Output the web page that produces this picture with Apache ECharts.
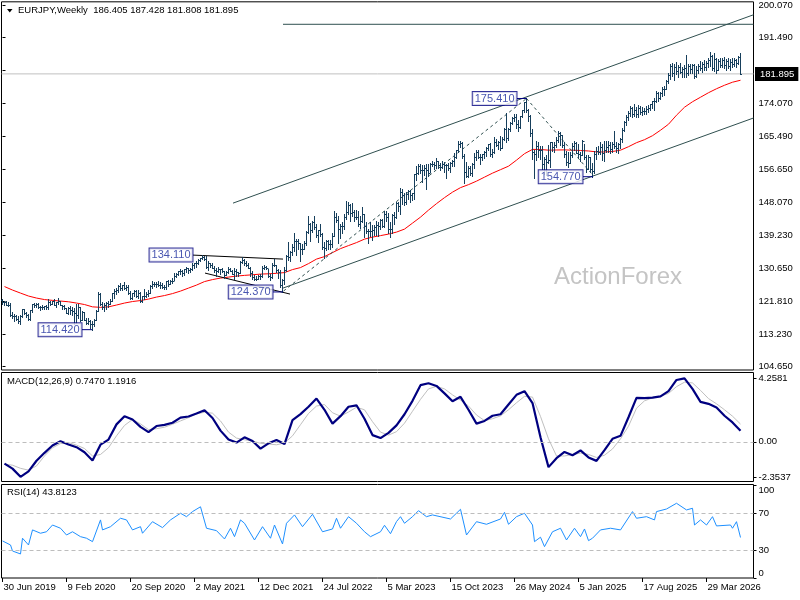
<!DOCTYPE html>
<html>
<head>
<meta charset="utf-8">
<script src="https://cdn.jsdelivr.net/npm/echarts@6/dist/echarts.min.js"></script>
<style>html,body{margin:0;padding:0;background:#fff}#c{width:800px;height:600px}</style>
</head>
<body>
<div id="c"></div>
<script>
// ---------------- data (weekly bars) ----------------
const xTickLabels = ['30 Jun 2019','9 Feb 2020','20 Sep 2020','2 May 2021','12 Dec 2021','24 Jul 2022','5 Mar 2023','15 Oct 2023','26 May 2024','5 Jan 2025','17 Aug 2025','29 Mar 2026'];
const firstOpen = 122.3;
const highs = [
122.6,122.0,121.9,121.6,121.4,119.1,118.6,118.3,118.0,118.2,
119.9,120.0,119.2,118.6,119.6,121.3,121.5,121.5,121.5,120.7,
120.9,120.7,121.0,122.4,122.0,122.1,122.6,121.7,122.9,122.1,
121.0,121.0,120.2,120.3,120.7,120.5,120.2,121.1,121.2,120.3,
119.3,119.1,117.5,117.5,116.9,116.6,117.3,119.6,124.4,124.0,
121.8,121.5,121.8,121.9,122.5,124.2,125.1,125.4,126.2,126.7,
126.3,127.1,126.1,126.3,124.6,124.2,124.8,124.9,124.9,124.3,
123.3,125.1,124.4,124.8,126.3,127.3,127.1,127.0,127.2,127.0,
126.6,126.3,127.3,127.6,127.6,128.0,129.5,129.3,130.0,130.4,
130.1,130.3,131.0,130.7,130.7,132.0,132.1,132.5,133.0,133.4,
134.11,133.9,133.8,132.5,132.1,132.0,131.2,130.6,130.9,130.4,
130.8,129.8,129.8,130.9,130.7,130.2,130.6,130.5,129.7,132.5,
133.5,133.0,132.5,132.0,131.0,129.8,128.8,128.5,128.9,129.2,
131.1,131.6,131.3,130.3,129.2,131.9,133.1,131.5,130.5,130.1,
127.7,131.0,134.0,137.5,135.3,137.1,140.0,138.3,138.3,137.4,
137.0,137.8,140.4,144.3,142.6,143.1,144.3,142.2,140.8,142.3,
140.0,137.5,138.2,138.0,138.0,140.0,145.6,145.1,144.4,142.4,
142.7,145.0,148.4,148.0,147.7,147.8,146.1,146.0,145.6,144.5,
146.7,145.0,142.9,141.0,142.9,142.0,142.1,143.0,142.7,143.6,
143.6,145.6,145.6,145.1,142.9,145.0,145.5,148.0,148.0,151.7,
151.6,150.6,150.7,151.2,151.2,150.6,155.4,157.6,158.0,158.0,
157.8,157.9,158.1,158.0,158.4,159.0,158.6,159.8,159.0,158.5,
159.0,158.7,158.0,158.5,158.7,159.2,161.0,161.8,164.3,164.1,
163.8,160.8,158.7,157.6,157.5,158.5,160.9,161.8,161.9,160.8,
160.8,161.6,162.6,163.4,163.7,162.0,165.2,164.7,164.1,165.4,
165.3,167.7,171.6,167.6,169.3,170.6,171.4,171.2,169.7,170.9,
172.4,174.5,175.41,172.6,171.0,167.3,161.7,164.3,163.9,163.0,
162.8,160.0,160.5,163.2,164.0,164.0,163.9,165.3,166.7,166.5,
165.9,163.9,161.6,161.4,161.4,163.6,164.2,164.0,163.4,161.4,
164.5,163.5,160.5,160.5,160.0,158.4,161.6,162.5,162.9,163.9,
163.3,164.2,164.1,164.1,163.8,163.9,166.7,163.9,163.7,165.0,
167.5,169.5,171.0,172.2,173.5,173.2,173.9,173.2,173.6,173.4,
173.1,172.9,173.5,173.8,174.0,174.7,175.5,177.5,177.2,177.0,
178.5,178.6,180.2,182.2,184.6,184.9,184.5,185.0,184.2,184.8,
183.7,184.2,186.8,184.6,184.4,184.6,184.4,183.9,184.5,185.3,
185.0,185.5,185.2,186.0,187.6,187.0,187.4,186.2,185.8,186.1,
186.0,186.3,185.9,186.2,185.8,186.0,186.2,185.9,186.7,187.428];
const lows = [
121.2,121.0,120.8,120.6,118.1,117.6,116.8,116.9,116.2,116.0,
117.7,118.5,117.8,116.9,117.1,119.2,120.3,120.3,120.2,119.6,
119.9,119.9,119.8,119.9,121.0,121.1,120.9,120.3,121.3,120.8,
119.8,119.9,118.9,118.6,118.6,118.2,115.9,116.1,117.5,116.8,
117.0,116.9,115.9,115.8,114.9,114.42,115.5,116.9,119.3,121.0,
119.8,119.4,119.9,120.3,121.1,122.0,122.9,123.8,124.3,125.0,
124.9,125.1,124.8,123.9,122.4,122.5,123.4,123.0,122.8,121.6,
121.8,122.6,123.1,123.3,124.0,125.5,125.9,125.7,125.9,125.3,
125.3,125.2,125.2,125.9,126.4,126.8,127.4,128.2,128.8,129.2,
128.5,128.8,129.6,129.3,129.7,130.1,130.8,131.0,131.8,132.5,
133.0,132.7,130.8,130.1,131.0,130.6,129.7,128.6,129.7,129.0,
129.7,128.0,128.8,129.4,129.8,129.0,127.9,128.7,128.5,129.3,
132.0,131.5,131.1,130.6,128.6,127.9,127.6,127.6,127.8,127.7,
128.2,130.5,130.3,128.2,127.4,128.0,131.1,129.6,128.0,125.6,
124.37,126.5,130.0,132.8,132.5,134.1,135.2,134.0,135.8,132.6,
134.3,135.6,136.8,140.0,137.9,140.1,141.1,138.8,137.5,139.0,
135.8,133.4,135.5,135.6,135.7,136.3,139.0,142.7,137.4,138.6,
140.0,140.9,143.6,144.9,143.1,144.5,143.2,143.5,141.8,141.2,
142.9,138.8,139.8,137.4,139.0,138.0,139.5,139.5,139.0,141.0,
141.6,141.5,143.0,139.8,138.8,139.9,142.4,143.9,145.8,145.0,
147.6,147.4,147.7,148.9,148.1,148.6,149.0,154.0,155.6,155.7,
153.5,155.2,151.4,155.0,155.9,157.5,156.7,157.2,157.0,156.6,
157.2,155.9,154.5,156.6,156.0,157.5,157.7,159.8,161.3,162.7,
159.8,153.2,154.8,154.6,155.1,155.0,157.2,159.2,159.8,158.2,
159.3,159.6,160.2,161.8,160.2,160.0,161.0,162.8,162.2,161.9,
162.3,164.4,164.0,164.5,166.9,168.7,169.4,167.7,166.8,167.6,
170.4,171.8,171.9,169.5,165.5,159.5,154.4,159.2,160.1,159.5,
156.7,155.6,155.2,158.5,157.4,161.5,161.2,162.5,163.8,163.2,
162.5,160.0,157.8,157.4,158.4,160.1,161.9,160.9,160.1,158.8,
160.4,159.4,156.0,156.9,155.9,154.77,155.8,159.4,160.8,160.8,
159.1,158.9,161.3,161.2,160.9,161.2,162.3,161.2,161.0,162.3,
164.0,166.8,168.5,169.8,170.8,170.4,170.8,170.5,170.6,171.2,
171.0,171.2,171.3,171.9,172.5,172.8,172.5,174.5,174.8,175.2,
176.0,176.2,177.8,179.5,180.6,181.4,180.4,181.9,181.0,182.0,
181.2,181.0,181.1,181.5,182.0,182.0,180.7,181.0,182.2,182.8,
182.4,183.0,182.8,183.6,184.0,182.9,182.6,182.1,182.8,183.6,
183.8,183.4,183.0,183.5,182.8,183.6,184.0,183.8,184.5,181.808];
const closes = [
121.7,121.6,121.0,120.8,118.4,118.1,117.9,117.3,116.6,117.9,
119.8,118.8,118.3,117.2,119.5,121.2,120.8,121.2,120.4,120.4,
120.3,120.6,120.3,121.8,121.3,121.9,120.9,121.6,122.0,120.9,
120.6,120.1,118.9,120.2,119.6,119.4,118.8,118.4,120.4,117.1,
119.2,117.0,116.3,116.6,115.8,115.9,117.1,119.4,123.9,121.3,
120.3,120.8,121.4,121.2,122.1,124.0,124.6,124.9,126.0,125.3,
126.1,125.5,125.6,124.0,122.8,124.0,124.6,123.4,124.0,122.0,
123.2,123.4,123.8,124.2,126.0,126.5,126.4,126.5,126.2,126.2,
125.8,125.8,127.2,126.5,127.2,127.3,128.6,129.0,130.0,130.0,
129.5,130.3,130.7,130.2,130.3,131.5,132.0,132.0,132.9,133.2,
133.7,133.0,131.0,132.0,131.4,130.6,130.1,130.0,130.3,130.4,
129.8,128.9,129.7,130.3,129.9,129.1,130.0,129.6,129.4,132.3,
132.8,131.9,131.5,130.7,129.4,128.3,127.7,127.8,128.7,128.7,
130.8,131.0,130.7,128.5,128.3,131.4,131.4,130.1,129.7,126.3,
127.6,130.2,133.9,133.6,134.9,136.3,137.8,137.9,137.4,135.7,
135.6,137.2,140.2,142.2,140.6,142.8,141.6,139.5,140.6,139.6,
136.2,135.9,137.9,137.0,136.9,139.1,144.2,143.4,140.9,141.8,
141.9,144.1,145.5,147.3,145.2,145.5,144.2,144.2,142.2,143.2,
145.0,141.7,140.5,140.5,140.5,140.6,141.6,142.1,141.7,143.4,
141.9,144.9,144.1,141.0,141.1,144.6,144.2,147.8,147.1,150.7,
149.9,148.2,150.3,150.9,149.9,150.5,155.4,155.8,157.5,156.6,
156.6,157.1,156.6,155.8,158.2,158.0,157.8,158.8,157.9,157.4,
158.2,157.9,157.9,157.2,158.3,158.8,160.0,161.7,163.5,163.6,
160.3,156.0,155.0,157.0,155.7,158.0,160.0,161.3,160.0,160.0,
160.8,161.3,162.3,163.4,160.8,161.4,163.8,163.2,164.0,162.4,
164.7,167.4,164.9,167.4,168.9,170.2,170.6,168.7,167.8,170.8,
172.4,174.4,172.4,170.9,166.2,161.3,160.7,163.0,161.8,161.7,
158.0,159.4,158.7,159.2,163.9,162.5,163.1,164.5,166.2,165.9,
163.2,160.8,158.7,158.5,160.6,163.0,163.7,161.1,160.7,160.6,
164.1,160.0,156.7,160.0,156.9,156.3,160.8,161.5,161.4,162.5,
161.0,161.8,162.6,163.1,162.0,163.5,163.0,162.3,163.4,164.6,
167.2,169.2,170.6,171.5,172.9,171.2,172.5,171.3,172.8,171.8,
172.1,172.0,172.6,172.9,173.9,174.7,174.8,176.8,175.6,176.8,
177.9,178.0,179.9,181.7,184.1,182.0,183.6,182.6,183.8,182.5,
183.2,183.5,182.0,184.0,183.3,184.2,181.4,182.9,184.1,183.4,
184.6,183.6,184.9,185.5,186.6,183.5,185.8,183.0,185.2,184.3,
185.6,184.2,185.4,184.1,185.1,184.5,185.6,184.9,186.405,181.895];

// moving average (red), MACD main / signal: one reading every 4 weeks, starting at week 1
const maValues = [125.79,124.87,124.07,123.29,122.76,122.36,122.15,121.97,121.78,121.44,
121.05,120.44,120.31,120.44,120.92,121.44,121.84,122.10,122.49,123.02,
123.42,123.94,124.60,125.39,126.18,127.11,127.63,128.03,128.29,128.56,
128.74,128.90,129.08,129.16,129.29,129.48,130.27,130.80,131.85,133.04,
133.70,134.75,135.80,136.60,137.39,138.31,138.84,139.23,139.63,140.16,
140.95,142.53,144.11,145.96,147.67,149.25,150.70,151.89,152.68,153.60,
154.66,155.71,156.63,157.55,159.14,160.85,161.98,161.95,161.77,161.82,
161.85,161.77,161.69,161.56,161.32,161.29,161.43,161.77,162.69,163.75,
164.54,165.59,167.04,168.62,171.00,173.10,174.55,175.74,176.93,177.98,
178.90,179.70,180.22];
const macdValues = [-1.46,-1.80,-2.35,-1.98,-1.27,-0.74,-0.25,0.04,-0.18,-0.36,
-0.70,-1.25,-0.19,0.15,1.17,1.72,1.50,1.00,0.65,1.06,
1.14,1.28,1.62,1.70,1.90,2.12,1.60,0.75,0.16,-0.05,
0.30,0.05,-0.46,-0.10,0.12,-0.15,1.45,1.86,2.35,2.90,
2.15,1.22,1.72,2.35,2.45,1.55,0.45,0.25,0.60,1.10,
1.85,2.75,3.80,3.93,3.75,3.25,2.72,3.02,2.15,1.22,
1.40,1.75,1.85,2.50,3.15,3.40,2.60,0.30,-1.70,-1.10,
-0.68,-0.90,-0.58,-1.05,-1.28,-0.56,0.20,0.40,1.65,2.95,
2.93,2.97,3.05,3.40,4.15,4.2581,3.55,2.68,2.55,2.30,
1.75,1.30,0.747];
const signalValues = [-1.50,-1.57,-1.78,-1.90,-1.62,-0.95,-0.40,-0.12,-0.06,-0.22,
-0.45,-0.95,-0.85,-0.40,0.40,1.10,1.50,1.20,0.82,0.88,
0.98,1.18,1.40,1.62,1.88,1.98,1.92,1.40,0.65,0.25,
0.14,0.05,-0.10,-0.15,-0.20,-0.08,0.40,1.15,1.90,2.40,
2.50,1.95,1.72,2.00,2.32,2.15,1.35,0.65,0.45,0.68,
1.25,2.05,2.85,3.55,3.72,3.55,3.15,2.80,2.40,1.80,
1.42,1.55,1.74,2.15,2.62,3.05,3.00,1.70,0.20,-0.95,
-0.95,-0.85,-0.76,-0.85,-1.05,-0.90,-0.48,0.20,1.05,2.25,
2.75,2.95,3.05,3.25,3.70,4.00,3.95,3.45,2.90,2.55,
2.15,1.72,1.1916];
// RSI(14) readings: week index and value
const rsiWeeks = [0,4,5,9,10,13,15,19,22,25,29,32,35,39,42,45,49,50,54,59,62,65,69,70,75,80,84,89,92,95,99,102,107,111,114,116,119,121,126,130,134,136,140,142,146,150,155,160,165,167,169,173,177,181,184,189,191,194,197,199,201,205,208,212,215,224,229,232,237,242,249,251,253,257,261,265,266,269,271,275,279,282,286,289,291,293,295,299,304,309,315,317,322,326,327,332,337,342,345,346,349,352,355,357,364,365,367,369];
const rsiValues = [40.1,35.7,29.2,26.0,43.0,35.7,52,48.4,50,57.3,53.8,46.5,50,44.7,43,39.3,62.8,52,55.5,64.6,62.8,52,55.5,48.4,60.9,54.5,62.8,70,66.3,71.8,77,53.8,51.2,42.2,53.8,44.7,62.8,59.2,41.1,55.5,43,57.3,36.8,59.2,68.2,55.5,68.9,50,53,64.6,53.8,66.3,59.2,50,44.7,50,57,47.9,61,66.3,59.2,66.3,72.8,66.3,68.2,63.8,74.3,46.5,60.9,58.1,63.8,71,58.1,66.3,70,57.3,39.3,44.1,33.9,50,53.8,41.1,53.8,44.7,53,40.4,43,52,53.8,52,71.8,64.6,66.3,62.8,71.8,74.6,80.8,73.6,75.4,57.3,62.8,57.3,66.3,56.3,57.3,53.8,60.9,43.8123];

const priceTicks = [104.65,113.23,121.81,130.65,139.23,148.07,156.65,165.49,174.07,182.91,191.49,200.07];
const macdTicks = [-2.3537, 0, 4.2581];
const lastPrice = 181.895;
const feLevel = 194.98;
// drawn objects, in (week index, price) units
const upperChannel = [[115.25,147.80],[375.5,197.49]];
const lowerChannel = [[140.25,125.39],[375.5,170.26]];
const triangleTop = [[95.25,134.09],[140.25,133.04]];
const triangleBottom = [[101.25,129.35],[143.75,123.81]];
const waveUp = [[140.5,124.6],[262,175.41]];
const waveDown = [[262,175.41],[295.5,155.0]];
const priceMarks = [[44.75,114.42],[100.25,134.11],[140.25,124.37],[262.25,175.41],[295.25,154.77]];

// ---------------- chart ----------------
const FONT = 'Liberation Sans';
const FS = 9.5;
const BAR = '#173F5C';
const SLOTS = 376;
const cats = Array.from({length: SLOTS}, (_, i) => String(i));
const bars = closes.map((c, i) => [i, i === 0 ? firstOpen : closes[i - 1], highs[i], lows[i], c]);
const every4 = arr => arr.map((v, k) => [1 + 4 * k, v]);
const rsiData = rsiWeeks.map((w, j) => [w, rsiValues[j]]);

function renderBar(params, api) {
  const i = api.value(0);
  const pO = api.coord([i, api.value(1)]);
  const pH = api.coord([i, api.value(2)]);
  const pL = api.coord([i, api.value(3)]);
  const pC = api.coord([i, api.value(4)]);
  const x = Math.floor(pH[0]) + 0.5;
  const yo = Math.round(pO[1]) + 0.5, yc = Math.round(pC[1]) + 0.5;
  const st = {stroke: BAR, lineWidth: 1};
  return {type: 'group', children: [
    {type: 'line', shape: {x1: x, y1: Math.round(pH[1]), x2: x, y2: Math.round(pL[1]) + 1}, style: st},
    {type: 'line', shape: {x1: x - 1.5, y1: yo, x2: x, y2: yo}, style: st},
    {type: 'line', shape: {x1: x, y1: yc, x2: x + 1.5, y2: yc}, style: st}
  ]};
}

function seg(pts, color, dashed, z) {
  return {type: 'line', xAxisIndex: 1, yAxisIndex: 0, data: pts, symbol: 'none', silent: true,
    lineStyle: {color: color, width: 1, type: dashed ? [3, 3] : 'solid'}, z: z || 4};
}

const gridCommon = {left: 1.5, width: 752, show: true, borderColor: '#000', borderWidth: 1, backgroundColor: '#fff'};
const labelStyle = {fontFamily: FONT, fontSize: FS, color: '#000'};
const hiddenCat = g => ({type: 'category', gridIndex: g, data: cats, boundaryGap: true, show: false});

const series = [
  // current price line with the axis box
  {type: 'line', xAxisIndex: 1, yAxisIndex: 0, data: [[-0.5, lastPrice], [375.5, lastPrice]], symbol: 'none', silent: true,
   lineStyle: {color: '#C0C0C0', width: 1}, z: 1,
   endLabel: {show: true, formatter: lastPrice.toFixed(3), backgroundColor: '#000', color: '#fff', fontFamily: FONT, fontSize: FS,
              padding: [2, 4, 2, 5], distance: 1.5}},
  // FE 78.6 level
  {type: 'line', xAxisIndex: 1, yAxisIndex: 0, symbol: 'none', silent: true, z: 4,
   lineStyle: {color: '#2F4F4F', width: 1},
   data: [[140.25, feLevel], {value: [375.5, feLevel], label: {show: true, formatter: 'FE 78.6', position: 'left', distance: 1,
          offset: [0, -6], color: '#2F4F4F', fontFamily: FONT, fontSize: FS}}]},
  seg(upperChannel, '#2F4F4F'),
  seg(lowerChannel, '#2F4F4F'),
  seg(triangleTop, '#000'),
  seg(triangleBottom, '#000'),
  seg(waveUp, '#2F4F4F', true),
  seg(waveDown, '#2F4F4F', true),
  // moving average
  {type: 'line', xAxisIndex: 0, yAxisIndex: 0, data: every4(maValues), symbol: 'none', silent: true,
   lineStyle: {color: '#FF0000', width: 1}, z: 3},
  // OHLC bars
  {type: 'custom', xAxisIndex: 0, yAxisIndex: 0, data: bars, renderItem: renderBar, encode: {x: 0, y: [1, 2, 3, 4]}, z: 5, silent: true, clip: true},
  // MACD
  {type: 'line', xAxisIndex: 2, yAxisIndex: 1, data: every4(signalValues), symbol: 'none', silent: true,
   lineStyle: {color: '#C0C0C0', width: 1}, z: 3,
   markLine: {silent: true, symbol: ['none', 'none'], label: {show: false},
              lineStyle: {color: '#BDBDBD', type: [4, 3], width: 1}, data: [{yAxis: 0}]}},
  {type: 'line', xAxisIndex: 2, yAxisIndex: 1, data: every4(macdValues), symbol: 'none', silent: true,
   lineStyle: {color: '#000080', width: 2.2}, z: 4},
  // RSI
  {type: 'line', xAxisIndex: 3, yAxisIndex: 2, data: rsiData, symbol: 'none', silent: true,
   lineStyle: {color: '#1E90FF', width: 1}, z: 4,
   markLine: {silent: true, symbol: ['none', 'none'], label: {show: false},
              lineStyle: {color: '#BDBDBD', type: [4, 3], width: 1}, data: [{yAxis: 70}, {yAxis: 30}]}}
];

// price label boxes with short connectors
priceMarks.forEach((m, j) => {
  if (j !== 1) series.push(seg([[m[0] - 5, m[1]], [m[0], m[1]]], '#000080', false, 6));
});
series.push({type: 'scatter', xAxisIndex: 1, yAxisIndex: 0, data: priceMarks, symbolSize: 1, itemStyle: {color: 'rgba(0,0,0,0)'},
  silent: true, z: 7,
  label: {show: true, position: 'left', distance: 10, formatter: p => p.value[1].toFixed(3),
          color: '#1A2A9C', fontFamily: FONT, fontSize: 11, backgroundColor: '#fff', borderColor: '#000080', borderWidth: 1,
          padding: [1, 2, 0, 2], lineHeight: 12}});

const option = {
  animation: false,
  backgroundColor: '#fff',
  grid: [
    Object.assign({top: 1.5, height: 368.5}, gridCommon),
    Object.assign({top: 372.5, height: 109}, gridCommon),
    Object.assign({top: 484.5, height: 93.5}, gridCommon)
  ],
  xAxis: [
    hiddenCat(0),
    {type: 'value', gridIndex: 0, min: -0.5, max: 375.5, show: false},
    hiddenCat(1),
    {type: 'category', gridIndex: 2, data: cats, boundaryGap: true,
     axisLine: {show: false},
     axisTick: {show: true, alignWithLabel: true, length: 4, interval: i => i % 32 === 0, lineStyle: {color: '#000'}},
     axisLabel: Object.assign({interval: i => i % 32 === 0, align: 'left', margin: 4, padding: [0, 0, 0, 1],
                 formatter: v => xTickLabels[Number(v) / 32] || ''}, labelStyle),
     splitLine: {show: false}}
  ],
  yAxis: [
    {type: 'value', gridIndex: 0, position: 'right', min: 103.78, max: 200.91, splitLine: {show: false},
     axisLine: {show: false},
     axisTick: {show: true, length: 3, customValues: priceTicks, lineStyle: {color: '#000'}},
     axisLabel: Object.assign({customValues: priceTicks, margin: 5, formatter: v => v.toFixed(3)}, labelStyle)},
    {type: 'value', gridIndex: 1, position: 'right', min: -2.664, max: 4.651, splitLine: {show: false},
     axisLine: {show: false},
     axisTick: {show: true, length: 3, customValues: macdTicks, lineStyle: {color: '#000'}},
     axisLabel: Object.assign({customValues: macdTicks, margin: 5, formatter: v => v === 0 ? '0.00' : v.toFixed(4)}, labelStyle)},
    {type: 'value', gridIndex: 2, position: 'right', min: 0, max: 101.1, splitLine: {show: false},
     axisLine: {show: false},
     axisTick: {show: true, length: 3, customValues: [30, 70], lineStyle: {color: '#000'}},
     axisLabel: Object.assign({customValues: [30, 70], margin: 5}, labelStyle)},
    {type: 'value', gridIndex: 2, position: 'right', min: 0, max: 101.1, splitLine: {show: false},
     axisLine: {show: false},
     axisTick: {show: true, length: 3, customValues: [100], lineStyle: {color: '#000'}},
     axisLabel: Object.assign({customValues: [100], margin: 5, verticalAlign: 'top'}, labelStyle)},
    {type: 'value', gridIndex: 2, position: 'right', min: 0, max: 101.1, splitLine: {show: false},
     axisLine: {show: false},
     axisTick: {show: true, length: 3, customValues: [0], lineStyle: {color: '#000'}},
     axisLabel: Object.assign({customValues: [0], margin: 5, verticalAlign: 'bottom'}, labelStyle)}
  ],
  graphic: [
    {type: 'polygon', shape: {points: [[7, 9], [12.5, 9], [9.75, 12.5]]}, style: {fill: '#000'}, z: 100},
    {type: 'text', left: 18, top: 5.5, z: 100,
     style: {text: 'EURJPY,Weekly  186.405 187.428 181.808 181.895', font: FS + 'px "' + FONT + '"', fill: '#000'}},
    {type: 'text', left: 7, top: 376.5, z: 100,
     style: {text: 'MACD(12,26,9) 0.7470 1.1916', font: FS + 'px "' + FONT + '"', fill: '#000'}},
    {type: 'text', left: 7, top: 487.5, z: 100,
     style: {text: 'RSI(14) 43.8123', font: FS + 'px "' + FONT + '"', fill: '#000'}},
    {type: 'text', left: 554, top: 265, z: 0,
     style: {text: 'ActionForex', font: '24px "' + FONT + '"', fill: '#C4C4C4'}}
  ],
  series: series
};

const chart = echarts.init(document.getElementById('c'), null, {width: 800, height: 600});
chart.setOption(option);
</script>
</body>
</html>
